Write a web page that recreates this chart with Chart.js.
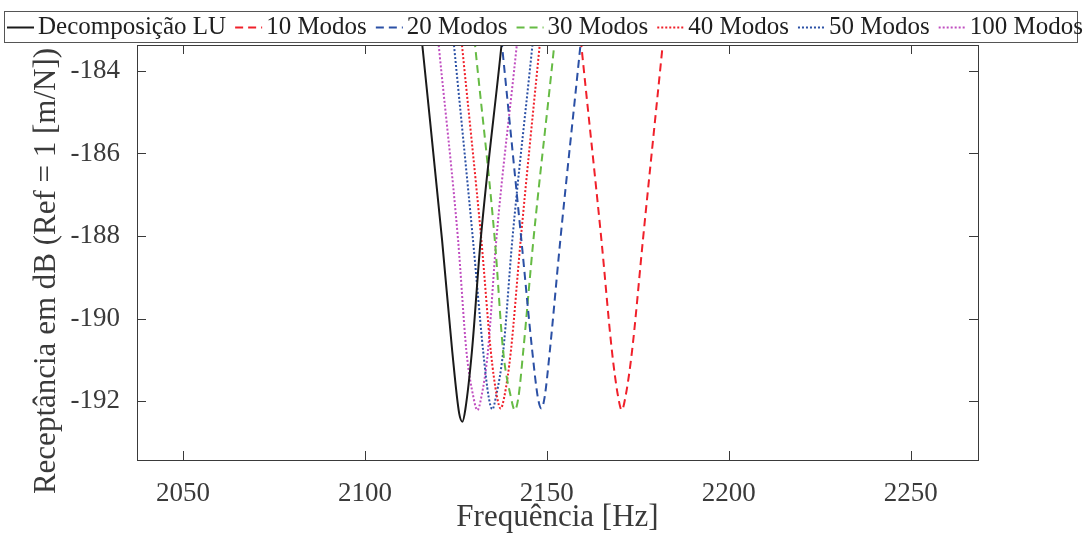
<!DOCTYPE html>
<html>
<head>
<meta charset="utf-8">
<script src="https://cdn.jsdelivr.net/npm/chart.js@4.4.1/dist/chart.umd.min.js"></script>
<style>
  html, body { margin: 0; padding: 0; background: #fff; }
</style>
</head>
<body>
<canvas id="chart" width="1083" height="536"></canvas>
<script>
// values (frequency in Hz, receptance in dB)
const xTicks = [2050, 2100, 2150, 2200, 2250];
const yTicks = [-192, -190, -188, -186, -184];

const seriesNames = ['Decomposição LU', '10 Modos', '20 Modos', '30 Modos', '40 Modos', '50 Modos', '100 Modos'];

const freqLU  = [2114.9, 2115.8, 2121.2, 2124.0, 2125.9, 2126.8, 2127.6, 2129.4, 2131.8, 2137.5, 2138.4];
const dbLU    = [-182.6, -183.4, -188.1, -190.8, -192.3, -192.5, -192.2, -190.8, -188.1, -183.4, -182.6];

const freq10  = [2158.6, 2159.5, 2165.0, 2167.9, 2169.6, 2170.6, 2171.6, 2173.4, 2176.4, 2181.8, 2182.7];
const db10    = [-182.6, -183.4, -188.1, -190.8, -191.9, -192.22, -191.9, -190.8, -188.1, -183.4, -182.6];

const freq20  = [2136.8, 2137.7, 2143.0, 2146.0, 2147.5, 2148.5, 2149.4, 2150.8, 2153.7, 2159.2, 2160.1];
const db20    = [-182.6, -183.4, -188.1, -190.8, -191.9, -192.18, -191.9, -190.8, -188.1, -183.4, -182.6];

const freq30  = [2129.4, 2130.3, 2135.7, 2138.0, 2140.1, 2141.2, 2142.2, 2143.5, 2146.3, 2152.0, 2152.9];
const db30    = [-182.6, -183.4, -188.1, -190.8, -191.9, -192.22, -191.9, -190.8, -188.1, -183.4, -182.6];

const freq40  = [2125.8, 2126.7, 2132.0, 2134.6, 2136.3, 2137.3, 2138.3, 2140.1, 2142.8, 2148.0, 2148.9];
const db40    = [-182.6, -183.4, -188.1, -190.8, -191.9, -192.18, -191.9, -190.8, -188.1, -183.4, -182.6];

const freq50  = [2123.6, 2124.5, 2129.7, 2132.5, 2134.0, 2135.0, 2136.0, 2138.0, 2140.5, 2146.0, 2146.9];
const db50    = [-182.6, -183.4, -188.1, -190.8, -191.9, -192.2, -191.9, -190.8, -188.1, -183.4, -182.6];

const freq100 = [2119.4, 2120.3, 2125.6, 2127.9, 2129.8, 2130.9, 2132.0, 2133.8, 2136.1, 2141.7, 2142.6];
const db100   = [-182.6, -183.4, -188.1, -190.8, -191.9, -192.22, -191.9, -190.8, -188.1, -183.4, -182.6];

const FONT = "'Liberation Serif', 'Times New Roman', serif";
const TEXT = '#3a3a3a';
const Y_TITLE = 'Receptância em dB (Ref = 1 [m/N])';

Chart.defaults.font.family = FONT;

const pts = (xs, ys) => xs.map((v, i) => ({ x: v, y: ys[i] }));

function series(label, xs, ys, color, dash) {
    return {
        label: label,
        data: pts(xs, ys),
        borderColor: color,
        borderWidth: 2,
        borderDash: dash,
        pointRadius: 0,
        fill: false,
        cubicInterpolationMode: 'monotone',
        clip: 0
    };
}

const datasets = [
    series(seriesNames[0], freqLU, dbLU, '#1a1a1a', []),
    series(seriesNames[1], freq10, db10, '#f0202a', [8, 5]),
    series(seriesNames[2], freq20, db20, '#2b50a5', [8, 5]),
    series(seriesNames[3], freq30, db30, '#66bb44', [8, 5]),
    series(seriesNames[4], freq40, db40, '#f0202a', [2, 2]),
    series(seriesNames[5], freq50, db50, '#2b50a5', [2, 2]),
    series(seriesNames[6], freq100, db100, '#c04ec0', [2, 2])
];

// MATLAB-like box with inward ticks, y label, and the boxed one-row legend
const frame = {
    id: 'frame',
    afterDraw(chart) {
        const { ctx, chartArea: a, scales: { x, y } } = chart;
        ctx.save();
        ctx.strokeStyle = '#3a3a3a';
        ctx.lineWidth = 1;
        ctx.setLineDash([]);
        ctx.strokeRect(Math.round(a.left) + 0.5, Math.round(a.top) + 0.5,
            Math.round(a.right - a.left), Math.round(a.bottom - a.top));
        ctx.beginPath();
        xTicks.forEach(v => {
            const px = Math.round(x.getPixelForValue(v)) + 0.5;
            ctx.moveTo(px, a.bottom); ctx.lineTo(px, a.bottom - 9);
            ctx.moveTo(px, a.top); ctx.lineTo(px, a.top + 9);
        });
        yTicks.forEach(v => {
            const py = Math.round(y.getPixelForValue(v)) + 0.5;
            ctx.moveTo(a.left, py); ctx.lineTo(a.left + 9, py);
            ctx.moveTo(a.right, py); ctx.lineTo(a.right - 9, py);
        });
        ctx.stroke();

        // y axis title
        ctx.save();
        ctx.translate(47, 271);
        ctx.rotate(-Math.PI / 2);
        ctx.font = '31px ' + FONT;
        ctx.fillStyle = TEXT;
        ctx.textAlign = 'center';
        ctx.textBaseline = 'middle';
        ctx.fillText(Y_TITLE, 0, 0);
        ctx.restore();

        // legend
        ctx.strokeStyle = '#555555';
        ctx.strokeRect(4.5, 11.5, 1073, 31);
        ctx.font = '25px ' + FONT;
        ctx.textBaseline = 'middle';
        ctx.fillStyle = '#1f1f1f';
        let lx = 7;
        const ly = 27.5;
        chart.data.datasets.forEach(ds => {
            ctx.beginPath();
            ctx.strokeStyle = ds.borderColor;
            ctx.lineWidth = 2;
            ctx.setLineDash(ds.borderDash || []);
            ctx.moveTo(lx, ly); ctx.lineTo(lx + 27, ly);
            ctx.stroke();
            ctx.setLineDash([]);
            ctx.fillText(ds.label, lx + 31, ly);
            lx += 31 + ctx.measureText(ds.label).width + 9;
        });
        ctx.restore();
    }
};

new Chart(document.getElementById('chart'), {
    type: 'line',
    data: { datasets: datasets },
    plugins: [frame],
    options: {
        responsive: false,
        animation: false,
        layout: { padding: { top: 45, right: 105, left: 0, bottom: 0 } },
        plugins: {
            legend: { display: false },
            tooltip: { enabled: false }
        },
        scales: {
            x: {
                type: 'linear',
                min: 2037.35,
                max: 2268.5,
                grid: { display: false },
                border: { display: false },
                afterBuildTicks: s => { s.ticks = xTicks.map(v => ({ value: v })); },
                afterFit: s => { s.height = 76; },
                ticks: {
                    font: { family: FONT, size: 27 },
                    color: TEXT,
                    padding: 10,
                    maxRotation: 0,
                    callback: v => String(v)
                },
                title: {
                    display: true,
                    text: 'Frequência [Hz]',
                    font: { family: FONT, size: 31 },
                    color: TEXT,
                    padding: 0
                }
            },
            y: {
                type: 'linear',
                min: -193.43,
                max: -183.37,
                grid: { display: false },
                border: { display: false },
                afterBuildTicks: s => { s.ticks = yTicks.map(v => ({ value: v })); },
                afterFit: s => { s.width = 137; },
                ticks: {
                    font: { family: FONT, size: 27 },
                    color: TEXT,
                    padding: 9,
                    callback: v => String(v)
                },
                title: { display: false }
            }
        }
    }
});
</script>
</body>
</html>
